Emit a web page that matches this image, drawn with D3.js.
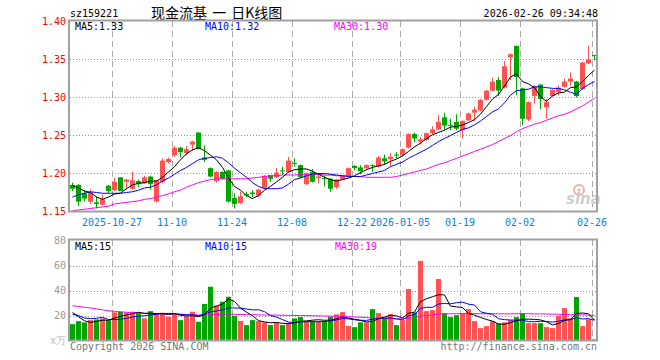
<!DOCTYPE html>
<html>
<head>
<meta charset="utf-8">
<title>现金流基 日K线图</title>
<script src="https://cdn.jsdelivr.net/npm/d3@7"></script>
<style>
  body { margin: 0; background: #fff; }
  text { font-family: "DejaVu Sans Mono", "Liberation Mono", monospace; font-size: 10px; }
</style>
</head>
<body>
<svg id="chart" width="660" height="360"></svg>
<script>
// trading days shown
var dates = ["2025-10-16","2025-10-17","2025-10-20","2025-10-21","2025-10-22","2025-10-23","2025-10-24","2025-10-27","2025-10-28","2025-10-29",
  "2025-10-30","2025-10-31","2025-11-03","2025-11-04","2025-11-05","2025-11-06","2025-11-07","2025-11-10","2025-11-11","2025-11-12",
  "2025-11-13","2025-11-14","2025-11-17","2025-11-18","2025-11-19","2025-11-20","2025-11-21","2025-11-24","2025-11-25","2025-11-26",
  "2025-11-27","2025-11-28","2025-12-01","2025-12-02","2025-12-03","2025-12-04","2025-12-05","2025-12-08","2025-12-09","2025-12-10",
  "2025-12-11","2025-12-12","2025-12-15","2025-12-16","2025-12-17","2025-12-18","2025-12-19","2025-12-22","2025-12-23","2025-12-24",
  "2025-12-25","2025-12-26","2025-12-29","2025-12-30","2025-12-31","2026-01-05","2026-01-06","2026-01-07","2026-01-08","2026-01-09",
  "2026-01-12","2026-01-13","2026-01-14","2026-01-15","2026-01-16","2026-01-19","2026-01-20","2026-01-21","2026-01-22","2026-01-23",
  "2026-01-26","2026-01-27","2026-01-28","2026-01-29","2026-01-30","2026-02-02","2026-02-03","2026-02-04","2026-02-05","2026-02-06",
  "2026-02-09","2026-02-10","2026-02-11","2026-02-12","2026-02-13","2026-02-24","2026-02-25","2026-02-26"];

var open = [1.185,1.185,1.174,1.163,1.162,1.159,1.184,1.178,1.195,1.189,
  1.180,1.190,1.187,1.196,1.163,1.189,1.215,1.224,1.234,1.227,
  1.238,1.254,1.221,1.207,1.190,1.202,1.204,1.168,1.161,1.173,
  1.175,1.171,1.181,1.198,1.195,1.204,1.202,1.214,1.211,1.186,
  1.202,1.194,1.194,1.193,1.182,1.192,1.196,1.210,1.208,1.207,
  1.211,1.209,1.220,1.219,1.225,1.224,1.234,1.252,1.242,1.244,
  1.253,1.258,1.274,1.264,1.268,1.257,1.270,1.280,1.283,1.297,
  1.309,1.323,1.313,1.353,1.368,1.312,1.271,1.302,1.317,1.287,
  1.302,1.307,1.314,1.321,1.321,1.311,1.345,1.356];
var high = [1.188,1.186,1.178,1.179,1.170,1.172,1.185,1.194,1.195,1.193,
  1.202,1.192,1.197,1.197,1.192,1.220,1.221,1.236,1.235,1.236,
  1.243,1.254,1.237,1.208,1.203,1.203,1.205,1.174,1.176,1.176,
  1.178,1.180,1.198,1.198,1.207,1.209,1.222,1.220,1.212,1.201,
  1.206,1.198,1.198,1.194,1.193,1.198,1.208,1.211,1.211,1.212,
  1.212,1.223,1.225,1.227,1.228,1.233,1.253,1.254,1.248,1.254,
  1.262,1.277,1.280,1.272,1.278,1.270,1.280,1.288,1.298,1.310,
  1.326,1.327,1.348,1.358,1.368,1.313,1.295,1.316,1.318,1.298,
  1.311,1.316,1.325,1.333,1.322,1.347,1.368,1.356];
var low = [1.177,1.157,1.163,1.160,1.154,1.158,1.174,1.177,1.177,1.179,
  1.179,1.182,1.186,1.179,1.162,1.187,1.213,1.222,1.221,1.224,
  1.230,1.232,1.215,1.195,1.188,1.192,1.162,1.154,1.160,1.169,
  1.169,1.169,1.180,1.189,1.194,1.198,1.201,1.209,1.194,1.185,
  1.188,1.187,1.183,1.176,1.180,1.191,1.195,1.204,1.199,1.205,
  1.202,1.208,1.211,1.209,1.220,1.223,1.233,1.241,1.238,1.243,
  1.252,1.257,1.257,1.257,1.257,1.246,1.269,1.269,1.282,1.296,
  1.308,1.302,1.312,1.323,1.303,1.264,1.269,1.292,1.285,1.272,
  1.301,1.303,1.313,1.315,1.300,1.310,1.344,1.349];
var close = [1.180,1.163,1.167,1.175,1.160,1.166,1.177,1.189,1.177,1.192,
  1.191,1.186,1.195,1.186,1.191,1.217,1.219,1.234,1.228,1.232,
  1.242,1.232,1.218,1.196,1.202,1.193,1.163,1.160,1.170,1.171,
  1.173,1.179,1.197,1.193,1.201,1.203,1.217,1.213,1.195,1.200,
  1.189,1.196,1.193,1.180,1.192,1.197,1.207,1.207,1.203,1.211,
  1.210,1.221,1.216,1.222,1.224,1.232,1.252,1.246,1.245,1.253,
  1.258,1.268,1.263,1.263,1.259,1.269,1.279,1.284,1.297,1.309,
  1.321,1.309,1.341,1.357,1.327,1.272,1.294,1.315,1.298,1.294,
  1.310,1.313,1.321,1.325,1.302,1.346,1.350,1.355];

// price moving averages
var ma5 = [1.184,1.181,1.177,1.175,1.169,1.166,1.169,1.173,1.174,1.180,
  1.185,1.187,1.188,1.190,1.190,1.195,1.202,1.209,1.218,1.226,
  1.231,1.234,1.230,1.224,1.218,1.208,1.194,1.183,1.178,1.171,
  1.167,1.171,1.178,1.183,1.189,1.195,1.202,1.205,1.206,1.206,
  1.203,1.199,1.195,1.192,1.190,1.192,1.194,1.197,1.201,1.205,
  1.208,1.210,1.212,1.216,1.219,1.223,1.229,1.235,1.240,1.246,
  1.251,1.254,1.257,1.261,1.262,1.264,1.267,1.271,1.278,1.288,
  1.298,1.304,1.315,1.327,1.331,1.321,1.318,1.313,1.301,1.295,
  1.302,1.306,1.307,1.313,1.314,1.321,1.329,1.336];
var ma10 = [1.169,1.172,1.174,1.176,1.175,1.174,1.174,1.174,1.174,1.175,
  1.176,1.178,1.181,1.182,1.185,1.190,1.194,1.199,1.204,1.208,
  1.213,1.218,1.220,1.221,1.222,1.220,1.214,1.207,1.201,1.195,
  1.188,1.183,1.180,1.180,1.180,1.181,1.186,1.192,1.194,1.197,
  1.199,1.200,1.200,1.199,1.198,1.197,1.196,1.196,1.196,1.198,
  1.200,1.202,1.204,1.209,1.212,1.215,1.220,1.224,1.228,1.232,
  1.237,1.242,1.246,1.250,1.254,1.258,1.260,1.264,1.269,1.275,
  1.281,1.285,1.293,1.303,1.309,1.310,1.311,1.314,1.314,1.313,
  1.312,1.312,1.310,1.307,1.304,1.312,1.317,1.321];
var ma30 = [1.151,1.152,1.153,1.154,1.155,1.156,1.157,1.160,1.161,1.162,
  1.163,1.164,1.166,1.167,1.169,1.171,1.173,1.176,1.178,1.182,
  1.185,1.188,1.190,1.192,1.193,1.193,1.193,1.193,1.193,1.193,
  1.194,1.195,1.196,1.197,1.197,1.198,1.198,1.198,1.199,1.199,
  1.199,1.199,1.198,1.198,1.197,1.197,1.197,1.196,1.196,1.195,
  1.195,1.195,1.195,1.195,1.196,1.198,1.200,1.202,1.204,1.206,
  1.209,1.212,1.214,1.217,1.220,1.223,1.226,1.229,1.232,1.235,
  1.238,1.242,1.246,1.250,1.255,1.259,1.262,1.265,1.267,1.270,
  1.273,1.276,1.278,1.281,1.285,1.289,1.294,1.299];

// volume (万手)
var vol = [13.1,15.5,14.5,16.3,16.9,17.7,16.3,22.5,23.0,22.5,
  23.0,22.2,17.7,23.5,21.7,22.2,19.0,21.1,16.3,19.5,
  23.0,15.0,29.2,43.0,27.8,31.0,35.0,19.8,15.7,12.3,
  16.3,15.5,14.5,12.3,14.1,12.3,14.1,17.7,18.7,15.5,
  15.7,15.5,15.7,19.0,20.9,22.7,11.7,10.7,14.5,14.5,
  25.1,21.9,18.2,21.1,12.3,16.3,41.2,22.5,63.7,23.5,
  24.3,49.2,21.9,18.7,20.3,21.9,25.1,15.5,9.9,11.5,
  15.5,13.7,14.5,16.3,18.7,21.9,13.9,13.9,13.9,10.7,
  9.9,19.8,25.9,17.9,34.8,11.5,16.9,0.8];
var vma5 = [22.5,19.0,15.8,14.5,15.3,16.2,16.3,17.9,19.3,20.4,
  21.5,22.6,21.7,21.8,21.6,21.5,20.8,21.5,20.1,19.6,
  19.8,19.0,20.6,25.9,27.6,29.2,33.2,31.3,25.9,22.8,
  19.8,15.9,14.9,14.2,14.5,13.7,13.5,14.1,15.4,15.7,
  16.3,16.6,16.2,16.3,17.4,18.8,18.0,17.0,16.1,14.8,
  15.3,17.3,18.8,20.2,19.7,18.0,21.8,22.7,31.2,33.4,
  35.0,36.6,36.5,27.5,26.9,26.4,21.6,20.3,18.5,16.8,
  15.5,13.2,13.0,14.3,15.7,17.0,17.1,16.9,16.5,14.9,
  12.5,13.6,16.0,16.8,21.7,22.0,21.4,16.4];
var vma10 = [21.0,20.0,18.0,17.5,17.8,18.5,16.8,16.7,17.0,17.8,
  18.8,19.5,19.8,20.5,21.0,21.5,21.7,21.6,20.9,20.6,
  20.6,19.9,21.1,23.0,23.6,24.5,26.1,26.0,25.9,25.2,
  24.5,24.6,23.1,20.0,18.7,16.8,14.7,14.5,14.8,15.1,
  15.0,15.0,15.2,15.8,16.5,17.6,17.3,16.6,16.2,16.1,
  17.0,17.7,17.9,18.1,17.3,16.6,19.6,20.8,25.7,26.6,
  26.5,29.2,29.6,29.4,30.2,30.7,29.1,28.4,23.0,21.8,
  21.0,17.4,16.7,16.4,16.3,16.3,15.1,15.0,15.4,15.3,
  14.7,15.4,16.5,16.7,18.3,17.2,17.5,16.2];
var vma30 = [27.8,27.3,26.6,26.0,25.3,24.5,23.8,23.3,22.9,22.6,
  22.3,22.0,21.8,21.7,21.6,21.5,21.3,21.2,21.0,20.8,
  20.5,20.3,20.3,20.6,20.8,21.0,21.1,21.0,20.8,20.7,
  20.6,20.5,20.4,20.3,20.3,20.2,20.1,20.0,20.0,19.9,
  19.8,19.7,19.6,19.5,19.4,19.2,19.0,18.8,18.6,18.3,
  18.0,17.8,17.6,17.4,17.3,17.3,17.8,18.3,19.5,20.0,
  20.3,21.2,21.3,21.4,21.5,21.5,21.6,21.5,21.4,21.4,
  21.4,21.3,21.3,21.3,21.4,21.4,21.4,21.3,21.3,21.2,
  21.1,21.0,20.8,20.6,20.6,20.5,20.3,20.0];

var tickDates = ["2025-10-27","2025-11-10","2025-11-24","2025-12-08","2025-12-22","2026-01-05","2026-01-19","2026-02-02","2026-02-26"];
var tickLabels = ["2025-10-27","11-10","11-24","12-08","12-22","2026-01-05","01-19","02-02","02-26"];
var priceTicks = [1.15, 1.20, 1.25, 1.30, 1.35, 1.40];
var volTicks = [20, 40, 60, 80];

var RED = "#ff5252", GREEN = "#00a600", GRID = "#aaaaaa";

var svg = d3.select("#chart");
svg.append("rect").attr("width", 660).attr("height", 360).attr("fill", "#fff");

var x = d3.scaleBand().domain(dates).range([70, 598]).paddingInner(0).paddingOuter(0);
var y = d3.scaleLinear().domain([1.15, 1.40]).range([211.5, 21.5]);
var yv = d3.scaleLinear().domain([0, 80]).range([340.5, 240.5]);
var bw = 5;
var cx = function(d) { return x(d) + 2.5; };

var data = dates.map(function(d, i) {
  return {date: d, o: open[i], h: high[i], l: low[i], c: close[i], v: vol[i]};
});
function col(d) { return d.c >= d.o ? RED : GREEN; }

// header
svg.append("text").attr("x", 70).attr("y", 17).text("sz159221");
svg.append("text").attr("x", 151).attr("y", 18)
  .style("font-family", "'Noto Sans CJK SC', sans-serif").style("font-size", "14px")
  .style("word-spacing", "2px")
  .text("现金流基 一 日K线图");
svg.append("text").attr("x", 598).attr("y", 17).attr("text-anchor", "end").text("2026-02-26 09:34:48");

// grids
function grid(g, yScale, vals, top, bottom) {
  g.selectAll(".hg").data(vals).enter().append("line")
    .attr("x1", 70).attr("x2", 597)
    .attr("y1", function(v) { return Math.round(yScale(v)) + 0.5; })
    .attr("y2", function(v) { return Math.round(yScale(v)) + 0.5; })
    .attr("stroke", "#999").attr("stroke-dasharray", "1,2");
  g.selectAll(".vg").data(tickDates).enter().append("line")
    .attr("x1", function(d) { return x(d) + 0.5; }).attr("x2", function(d) { return x(d) + 0.5; })
    .attr("y1", top).attr("y2", bottom)
    .attr("stroke", GRID).attr("stroke-dasharray", "6,4");
}
var gp = svg.append("g");
grid(gp, y, [1.20, 1.25, 1.30, 1.35], 21, 211);
var gv = svg.append("g");
grid(gv, yv, [20, 40, 60], 240, 340);

// watermark
var wm = svg.append("g").attr("transform", "translate(565,184)");
wm.append("circle").attr("cx", 14).attr("cy", 6).attr("r", 5).attr("fill", "none").attr("stroke", "#e6b3b3").attr("stroke-width", 2);
wm.append("circle").attr("cx", 14).attr("cy", 6).attr("r", 1.6).attr("fill", "#e6b3b3");
wm.append("text").attr("x", 1).attr("y", 20)
  .style("font-family", "'DejaVu Sans', sans-serif").style("font-size", "15px")
  .style("font-style", "italic").style("font-weight", "bold")
  .attr("fill", "#cfcfcf").text("sina");

// candles
var cg = svg.append("g");
cg.selectAll(".wick").data(data).enter().append("line")
  .attr("x1", function(d) { return cx(d.date); }).attr("x2", function(d) { return cx(d.date); })
  .attr("y1", function(d) { return y(d.h); }).attr("y2", function(d) { return y(d.l); })
  .attr("stroke", col).attr("stroke-width", 1);
cg.selectAll(".body").data(data).enter().append("rect")
  .attr("x", function(d) { return x(d.date); })
  .attr("width", bw)
  .attr("y", function(d) { return y(Math.max(d.o, d.c)); })
  .attr("height", function(d) { return Math.max(1, Math.abs(y(d.o) - y(d.c))); })
  .attr("fill", col);

// price MA lines
function maLine(g, arr, yScale, color) {
  var line = d3.line().x(function(v, i) { return cx(dates[i]); }).y(function(v) { return yScale(v); });
  g.append("path").datum(arr).attr("d", line).attr("fill", "none").attr("stroke", color).attr("stroke-width", 1);
}
maLine(svg, ma30, y, "#ff00ff");
maLine(svg, ma10, y, "#0000ff");
maLine(svg, ma5, y, "#000000");

// volume bars
svg.append("g").selectAll("rect").data(data).enter().append("rect")
  .attr("x", function(d) { return x(d.date); })
  .attr("width", bw)
  .attr("y", function(d) { return yv(d.v); })
  .attr("height", function(d) { return yv(0) - yv(d.v); })
  .attr("fill", col);
maLine(svg, vma30, yv, "#ff00ff");
maLine(svg, vma10, yv, "#0000ff");
maLine(svg, vma5, yv, "#000000");

// frames
svg.append("rect").attr("x", 69).attr("y", 20.5).attr("width", 528).attr("height", 191)
  .attr("fill", "none").attr("stroke", "#a0a0a0").attr("stroke-width", 2);
svg.append("rect").attr("x", 69).attr("y", 239.5).attr("width", 528).attr("height", 101)
  .attr("fill", "none").attr("stroke", "#a0a0a0").attr("stroke-width", 2);

// axes
var ay = svg.append("g").attr("transform", "translate(69,0)")
  .call(d3.axisLeft(y).tickValues(priceTicks).tickFormat(d3.format(".2f")).tickSize(0).tickPadding(3));
ay.select(".domain").remove();
ay.selectAll("text").attr("fill", "#ff0000").style("font-size", "10px").style("font-family", "'DejaVu Sans Mono', monospace");

var av = svg.append("g").attr("transform", "translate(69,0)")
  .call(d3.axisLeft(yv).tickValues(volTicks).tickSize(0).tickPadding(3));
av.select(".domain").remove();
av.selectAll("text").attr("fill", "#999").style("font-size", "10px").style("font-family", "'DejaVu Sans Mono', monospace");
svg.append("text").attr("x", 66).attr("y", 344).attr("text-anchor", "end").attr("fill", "#bbb").text("x万");

var ax = svg.append("g").attr("transform", "translate(" + (-x.bandwidth() / 2) + ",212)")
  .call(d3.axisBottom(x).tickValues(tickDates).tickFormat(function(d, i) { return tickLabels[i]; }).tickSize(0).tickPadding(7));
ax.select(".domain").remove();
ax.selectAll("text").attr("fill", "#0a7fd6").style("font-size", "10px").style("font-family", "'DejaVu Sans Mono', monospace");

// legends
function legend(yPos, items) {
  items.forEach(function(it) {
    svg.append("text").attr("x", it[0]).attr("y", yPos).attr("fill", it[2]).text(it[1]);
  });
}
legend(30, [[75, "MA5:1.33", "#000"], [205, "MA10:1.32", "#0000ff"], [334, "MA30:1.30", "#ff00ff"]]);
legend(250, [[75, "MA5:15", "#000"], [205, "MA10:15", "#0000ff"], [335, "MA30:19", "#ff00ff"]]);

// footer
svg.append("text").attr("x", 70).attr("y", 350).attr("fill", "#777").text("Copyright 2026 SINA.COM");
svg.append("text").attr("x", 597).attr("y", 350).attr("text-anchor", "end").attr("fill", "#777").text("http://finance.sina.com.cn");
</script>
</body>
</html>
